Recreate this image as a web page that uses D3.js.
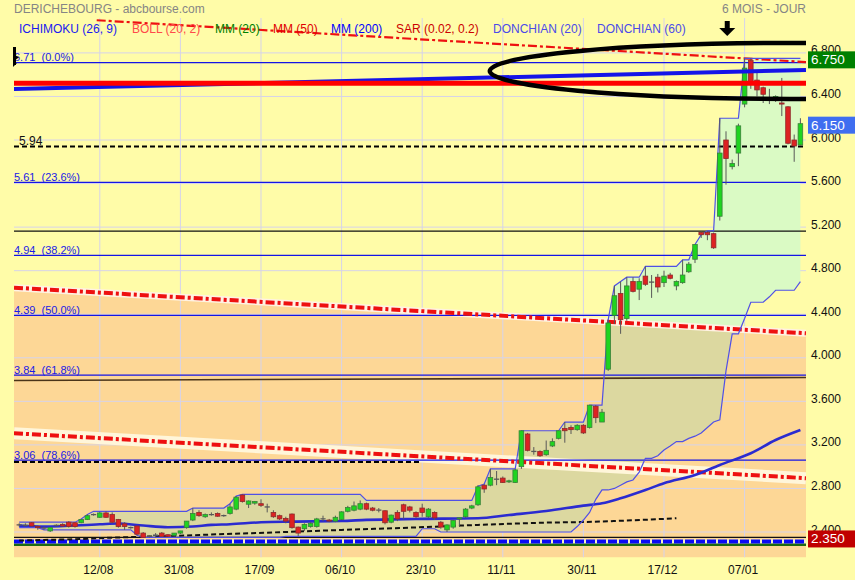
<!DOCTYPE html>
<html><head><meta charset="utf-8">
<script src="https://cdn.jsdelivr.net/npm/d3@7"></script>
<style>
body{margin:0;background:#FFFCA8;}
svg{display:block;font-family:"Liberation Sans",Arial,sans-serif;}
</style></head>
<body><svg id="c" width="855" height="580"></svg>
<script>
// ---------------- data ----------------
const tickLabels = ["12/08","31/08","17/09","06/10","23/10","11/11","30/11","17/12","07/01"];
const tickBars   = [13,26,39,52,65,78,91,104,117];
const yTicks = [6.8,6.4,6.0,5.6,5.2,4.8,4.4,4.0,3.6,3.2,2.8,2.4];

const opens = [2.46,2.465,2.485,2.45,2.43,2.41,2.46,2.47,2.49,2.485,
2.485,2.515,2.56,2.535,2.575,2.56,2.515,2.475,2.44,2.455,
2.39,2.36,2.37,2.39,2.375,2.37,2.39,2.44,2.51,2.58,
2.54,2.56,2.57,2.55,2.57,2.61,2.74,2.655,2.665,2.66,
2.63,2.58,2.55,2.525,2.565,2.445,2.43,2.45,2.45,2.52,
2.51,2.50,2.515,2.59,2.60,2.61,2.66,2.62,2.60,2.595,
2.49,2.58,2.65,2.63,2.58,2.62,2.54,2.58,2.49,2.42,
2.445,2.52,2.54,2.62,2.65,2.83,2.83,2.885,2.895,2.86,
2.855,3.00,3.30,3.14,3.14,3.11,3.19,3.26,3.35,3.36,
3.34,3.38,3.36,3.555,3.41,3.895,4.39,4.59,4.36,4.70,
4.63,4.75,4.69,4.74,4.69,4.76,4.66,4.69,4.79,4.905,
5.15,5.15,5.14,5.30,6.00,5.755,5.88,6.33,6.73,6.55,
6.48,6.38,6.38,6.34,6.305,6.00,5.955];
const highs = [2.48,2.48,2.49,2.46,2.45,2.445,2.47,2.48,2.50,2.49,
2.52,2.56,2.57,2.585,2.59,2.58,2.52,2.49,2.45,2.46,
2.40,2.37,2.39,2.40,2.38,2.39,2.41,2.50,2.62,2.60,
2.57,2.58,2.58,2.56,2.66,2.73,2.745,2.69,2.685,2.70,
2.66,2.60,2.56,2.54,2.57,2.45,2.48,2.49,2.53,2.55,
2.52,2.55,2.59,2.64,2.68,2.69,2.67,2.63,2.62,2.60,
2.56,2.60,2.66,2.64,2.59,2.66,2.62,2.59,2.50,2.47,
2.51,2.53,2.62,2.65,2.83,2.84,2.98,2.96,2.91,2.88,
2.98,3.33,3.31,3.18,3.15,3.24,3.26,3.33,3.41,3.38,
3.39,3.39,3.565,3.565,3.53,4.35,4.66,4.70,4.74,4.74,
4.73,4.84,4.76,4.77,4.80,4.78,4.71,4.90,4.88,5.04,
5.16,5.165,5.15,6.20,6.08,5.82,6.15,6.75,6.75,6.63,
6.49,6.47,6.41,6.57,6.31,6.05,6.20];
const lows = [2.45,2.45,2.45,2.42,2.42,2.40,2.45,2.45,2.44,2.44,
2.48,2.51,2.55,2.53,2.53,2.48,2.44,2.42,2.43,2.37,
2.35,2.35,2.35,2.36,2.36,2.36,2.38,2.43,2.50,2.54,
2.53,2.55,2.54,2.54,2.56,2.60,2.67,2.62,2.65,2.63,
2.58,2.53,2.51,2.48,2.43,2.36,2.41,2.44,2.44,2.50,
2.49,2.49,2.51,2.58,2.59,2.60,2.60,2.59,2.58,2.47,
2.48,2.50,2.52,2.58,2.53,2.54,2.53,2.51,2.43,2.40,
2.43,2.45,2.53,2.61,2.64,2.76,2.82,2.83,2.85,2.85,
2.85,2.98,3.14,3.11,3.09,3.10,3.18,3.25,3.22,3.30,
3.33,3.30,3.35,3.40,3.41,3.88,4.31,4.22,4.34,4.60,
4.53,4.66,4.55,4.60,4.65,4.72,4.62,4.68,4.78,4.87,
5.10,5.08,5.00,5.26,5.59,5.73,5.76,6.30,6.47,6.40,
6.34,6.33,6.35,6.22,5.96,5.80,5.95];
const closes = [2.465,2.46,2.455,2.44,2.435,2.44,2.46,2.455,2.45,2.45,
2.515,2.55,2.56,2.575,2.535,2.49,2.45,2.45,2.44,2.38,
2.35,2.36,2.37,2.36,2.36,2.39,2.41,2.50,2.57,2.55,
2.56,2.56,2.545,2.55,2.63,2.72,2.68,2.685,2.68,2.645,
2.63,2.54,2.52,2.50,2.44,2.39,2.47,2.48,2.52,2.52,
2.50,2.535,2.585,2.625,2.64,2.66,2.61,2.60,2.60,2.485,
2.555,2.52,2.59,2.60,2.54,2.58,2.61,2.53,2.445,2.465,
2.505,2.53,2.61,2.64,2.815,2.795,2.90,2.885,2.855,2.87,
2.97,3.33,3.15,3.14,3.10,3.15,3.23,3.33,3.33,3.34,
3.38,3.31,3.565,3.45,3.50,4.32,4.57,4.35,4.66,4.61,
4.70,4.675,4.695,4.65,4.75,4.73,4.70,4.76,4.86,5.04,
5.13,5.13,5.01,5.88,5.83,5.785,6.13,6.66,6.53,6.46,
6.42,6.38,6.40,6.33,5.97,5.945,6.15];

// Donchian (20) channel: [first bar, level]
const donchUpperSteps = [[0,2.49],[10,2.52],[11,2.56],[12,2.59],[28,2.62],[34,2.66],[35,2.73],[36,2.745],[56,2.69],[74,2.82],[75,2.84],[76,2.98],[81,3.33],[88,3.41],[92,3.565],[95,4.35],[96,4.66],[97,4.70],[98,4.74],[101,4.84],[107,4.90],[109,5.04],[110,5.13],[111,5.165],[113,6.20],[117,6.75]];
const donchLowerSteps = [[0,2.44],[4,2.42],[19,2.37],[20,2.35],[43,2.36],[65,2.43],[68,2.40],[90,2.45],[91,2.51],[92,2.58],[93,2.70],[94,2.786],[96,2.80],[97,2.83],[98,2.86],[99,2.878],[100,2.95],[101,3.077],[103,3.10],[104,3.153],[105,3.19],[106,3.23],[108,3.26],[109,3.28],[110,3.31],[111,3.36],[112,3.41],[113,3.43],[114,3.88],[115,4.22],[117,4.36],[118,4.51],[121,4.56],[122,4.62],[126,4.70]];

// moving averages (sampled)
const maBlueBars = [0,4,13,16,20,24,28,31,34,39,44,52,56,64,74,79,85,91,94,97,101,104,109,113,118,122,126];
const maBlueVals = [2.459,2.449,2.471,2.478,2.459,2.444,2.451,2.465,2.471,2.489,2.495,2.501,2.511,2.520,2.526,2.556,2.593,2.642,2.664,2.71,2.786,2.848,2.924,3.016,3.123,3.245,3.337];
const maBlackBars = [0,4,10,15,20,26,32,42,52,64,74,85,91,96,106];
const maBlackVals = [2.322,2.327,2.336,2.348,2.357,2.366,2.379,2.398,2.419,2.442,2.465,2.486,2.492,2.501,2.526];

// Fibonacci retracement
const fibLevels = [6.71,5.61,4.94,4.39,3.84,3.06];
const fibPct = ["0.0%","23.6%","38.2%","50.0%","61.8%","78.6%"];

// trend lines: [bar, price] endpoints
const trendUpper = [[-0.84,4.644],[126.9,4.225]];
const trendLower = [[-0.84,3.307],[126.9,2.894]];
const trendTop   = [[12.5,7.10],[126.9,6.716]];
const trendBlue  = [[-0.84,6.468],[126.9,6.643]];
const trendBrown = [[-0.84,3.792],[126.9,3.819]];
const redLevel = 6.521;
const blackLevels = [5.164, 2.35];
const dashedLevel = 5.94;
const dashedShort = [[-0.84,3.043],[64.6,3.043]];
const bottomBlue = 2.313, bottomGreen = 2.286;
const priceBoxes = [6.75, 6.15, 2.35];
const priceBoxLabels = ["6.750","6.150","2.350"];
const legendNames = ["ICHIMOKU (26, 9)","BOLL (20, 2)","MM (20)","MM (50)","MM (200)","SAR (0.02, 0.2)","DONCHIAN (20)","DONCHIAN (60)"];
const ellipseAnn = {bar:124.3, price:6.634, rBars:48.4, rPrice:0.257};
const arrowBar = 114.2;

// ---------------- drawing ----------------
const svg = d3.select("#c");
const W=855,H=580, PL=14, PR=806, PT=18, PB=557.5;
const x = d3.scaleLinear().domain([0,126]).range([19.2,800.4]);
const y = d3.scaleLinear().domain([2.4,6.8]).range([532.0,52.9]);
const N = opens.length;

function expand(steps,n){const out=[];let k=0;for(let i=0;i<n;i++){while(k+1<steps.length&&steps[k+1][0]<=i)k++;out.push(steps[k][1]);}return out;}
const dUp = expand(donchUpperSteps,N), dLo = expand(donchLowerSteps,N);

svg.append("rect").attr("width",W).attr("height",H).attr("fill","#FFFCA8");
const defs = svg.append("defs");
defs.append("clipPath").attr("id","plot").append("rect").attr("x",PL).attr("y",PT).attr("width",PR-PL).attr("height",PB-PT);
const tu = p=>[x(p[0]),y(p[1])];
const u0=tu(trendUpper[0]), u1=tu(trendUpper[1]);
const orangePts = [[u0[0],u0[1]+1.5],[u1[0],u1[1]+1.5],[PR,PB],[PL,PB]];
const yellowPts = [[PL,PT],[PR,PT],[u1[0],u1[1]+1.5],[u0[0],u0[1]+1.5]];
defs.append("clipPath").attr("id","orangeClip").append("polygon").attr("points",orangePts.map(p=>p.join(",")).join(" "));
defs.append("clipPath").attr("id","yellowClip").append("polygon").attr("points",yellowPts.map(p=>p.join(",")).join(" "));

const g = svg.append("g").attr("clip-path","url(#plot)");
g.append("polygon").attr("points",orangePts.map(p=>p.join(",")).join(" ")).attr("fill","#FDD796");

// gridlines
yTicks.forEach(v=>g.append("line").attr("x1",PL).attr("x2",PR).attr("y1",y(v)).attr("y2",y(v)).attr("stroke","#d6d3ea").attr("stroke-width",1));
tickBars.forEach(b=>g.append("line").attr("x1",x(b)).attr("x2",x(b)).attr("y1",PT).attr("y2",PB).attr("stroke","#d6d3ea").attr("stroke-width",1));

// Donchian fill
const idx = d3.range(N);
const area = d3.area().x(i=>x(i)).y0(i=>y(dLo[i])).y1(i=>y(dUp[i]));
g.append("path").attr("d",area(idx)).attr("fill","#DAFAC4").attr("clip-path","url(#yellowClip)");
g.append("path").attr("d",area(idx)).attr("fill","#DCD8A0").attr("clip-path","url(#orangeClip)");

const line2 = d3.line().x(p=>x(p[0])).y(p=>y(p[1]));
// trend lines with halos
g.append("path").attr("d",line2(trendLower)).attr("stroke","#FFF6DA").attr("stroke-width",12).attr("fill","none");
g.append("path").attr("d",line2(trendUpper)).attr("stroke","#FFF2E2").attr("stroke-width",7).attr("fill","none");

// fib / horizontal lines
fibLevels.forEach(v=>g.append("line").attr("x1",PL).attr("x2",PR).attr("y1",y(v)).attr("y2",y(v)).attr("stroke","#1414e6").attr("stroke-width",1.2));
blackLevels.forEach(v=>g.append("line").attr("x1",PL).attr("x2",PR).attr("y1",y(v)).attr("y2",y(v)).attr("stroke","#111").attr("stroke-width",1.3));
g.append("path").attr("d",line2(trendBrown)).attr("stroke","#4a3418").attr("stroke-width",1.6).attr("fill","none");
g.append("line").attr("x1",PL).attr("x2",PR).attr("y1",y(dashedLevel)).attr("y2",y(dashedLevel)).attr("stroke","#000").attr("stroke-width",2).attr("stroke-dasharray","5,3");
g.append("path").attr("d",line2(dashedShort)).attr("stroke","#000").attr("stroke-width",2).attr("stroke-dasharray","5,3").attr("fill","none");

// red dash-dot trend lines
g.append("path").attr("d",line2(trendLower)).attr("stroke","#ee1010").attr("stroke-width",4).attr("stroke-dasharray","9,3,3,3").attr("fill","none");
g.append("path").attr("d",line2(trendUpper)).attr("stroke","#ee1010").attr("stroke-width",4).attr("stroke-dasharray","9,3,3,3").attr("fill","none");
g.append("path").attr("d",line2(trendTop)).attr("stroke","#ee1010").attr("stroke-width",2.2).attr("stroke-dasharray","9,3,3,3").attr("fill","none");

// bottom lines
g.append("line").attr("x1",PL).attr("x2",PR).attr("y1",y(bottomGreen)).attr("y2",y(bottomGreen)).attr("stroke","#1d6a12").attr("stroke-width",3);
g.append("line").attr("x1",PL).attr("x2",PR).attr("y1",y(bottomBlue)).attr("y2",y(bottomBlue)).attr("stroke","#f4f0c8").attr("stroke-width",4);
g.append("line").attr("x1",PL).attr("x2",PR).attr("y1",y(bottomBlue)).attr("y2",y(bottomBlue)).attr("stroke","#0a0af5").attr("stroke-width",4).attr("stroke-dasharray","9,2");

// moving averages
const maBlue = maBlueBars.map((b,i)=>[b,maBlueVals[i]]);
const maBlack = maBlackBars.map((b,i)=>[b,maBlackVals[i]]);
const lineC = d3.line().x(p=>x(p[0])).y(p=>y(p[1])).curve(d3.curveMonotoneX);
g.append("path").attr("d",lineC(maBlack)).attr("stroke","#111").attr("stroke-width",2).attr("stroke-dasharray","5,3").attr("fill","none");
g.append("path").attr("d",lineC(maBlue)).attr("stroke","#2b2bd0").attr("stroke-width",2.6).attr("fill","none");

// Donchian lines
const lineU = d3.line().x(i=>x(i)).y(i=>y(dUp[i]));
const lineL = d3.line().x(i=>x(i)).y(i=>y(dLo[i]));
g.append("path").attr("d",lineU(idx)).attr("stroke","#5050e6").attr("stroke-width",1.2).attr("fill","none");
g.append("path").attr("d",lineL(idx)).attr("stroke","#5050e6").attr("stroke-width",1.2).attr("fill","none");

// candles
const cg = g.append("g");
idx.forEach(i=>{
  const o=opens[i],c=closes[i],h=highs[i],l=lows[i],cx=x(i);
  cg.append("line").attr("x1",cx).attr("x2",cx).attr("y1",y(h)).attr("y2",y(l)).attr("stroke","#585858").attr("stroke-width",1);
  if(Math.abs(o-c)<0.008){
    cg.append("line").attr("x1",cx-2.6).attr("x2",cx+2.6).attr("y1",y(c)).attr("y2",y(c)).attr("stroke","#585858").attr("stroke-width",1.3);
  } else {
    const up=c>o;
    cg.append("rect").attr("x",cx-2.3).attr("width",4.6).attr("y",y(Math.max(o,c))).attr("height",Math.max(1,Math.abs(y(o)-y(c))))
      .attr("fill",up?"#1fd41f":"#dd2222").attr("stroke",up?"#3a7f3a":"#8e2a2a").attr("stroke-width",0.8);
  }
});

// thick blue / red lines at top
g.append("path").attr("d",line2(trendBlue)).attr("stroke","#1414e8").attr("stroke-width",4).attr("fill","none");
g.append("line").attr("x1",PL).attr("x2",PR).attr("y1",y(redLevel)).attr("y2",y(redLevel)).attr("stroke","#ff0000").attr("stroke-width",5);

// ellipse annotation
g.append("ellipse").attr("cx",x(ellipseAnn.bar)).attr("cy",y(ellipseAnn.price))
  .attr("rx",x(ellipseAnn.rBars)-x(0)).attr("ry",Math.abs(y(ellipseAnn.price+ellipseAnn.rPrice)-y(ellipseAnn.price)))
  .attr("fill","none").attr("stroke","#000").attr("stroke-width",4.5);

// labels
const T = (tx,ty,s,opt={})=>svg.append("text").attr("x",tx).attr("y",ty).text(s)
  .attr("font-size",opt.fs||12).attr("fill",opt.fill||"#000").attr("text-anchor",opt.anchor||"start").style("white-space","pre");

fibLevels.forEach((v,i)=>T(PL,y(v)-1.5,v.toFixed(2)+"  ("+fibPct[i]+")",{fs:11,fill:"#1a1ae6"}));
T(19,y(dashedLevel)-1.5,dashedLevel.toFixed(2),{fs:12,fill:"#111"});

yTicks.forEach(v=>T(811,y(v)+1.5,v.toFixed(3),{fs:12,fill:"#111"}));
tickBars.forEach((b,i)=>T(x(b)-1.5,574,tickLabels[i],{fs:12,fill:"#111",anchor:"middle"}));

const boxColors = ["#008000","#3f6ef0","#c00000"];
priceBoxes.forEach((v,i)=>{
  svg.append("rect").attr("x",808).attr("y",y(v)-7).attr("width",47).attr("height",17).attr("fill",boxColors[i]);
  T(811,y(v)+6,priceBoxLabels[i],{fs:13.5,fill:"#fff"});
});

// title & legend
T(14,12.5,"DERICHEBOURG - abcbourse.com",{fs:12,fill:"#858585"});
T(806,13,"6 MOIS - JOUR",{fs:12,fill:"#858585",anchor:"end"});
const legX=[19,132,215,273,331,396,493,597];
const legC=["#1a1af0","#ff4a4a","#008000","#e00000","#0000ff","#cc0000","#4b4be8","#4b4be8"];
legendNames.forEach((s,i)=>T(legX[i],33,s,{fs:12,fill:legC[i]}));

// arrow
const ax = x(arrowBar);
svg.append("rect").attr("x",ax-2.5).attr("y",21).attr("width",5).attr("height",7.5).attr("fill","#000");
svg.append("polygon").attr("points",`${ax-8},28 ${ax+8},28 ${ax},36`).attr("fill","#000");

// left marker
svg.append("rect").attr("x",13).attr("y",47).attr("width",3).attr("height",18).attr("fill","#000");
svg.append("polygon").attr("points","13,54 19,57.5 13,61").attr("fill","#000");
svg.append("polygon").attr("points","13,63 17,63 13,67").attr("fill","#000");
</script></body></html>
